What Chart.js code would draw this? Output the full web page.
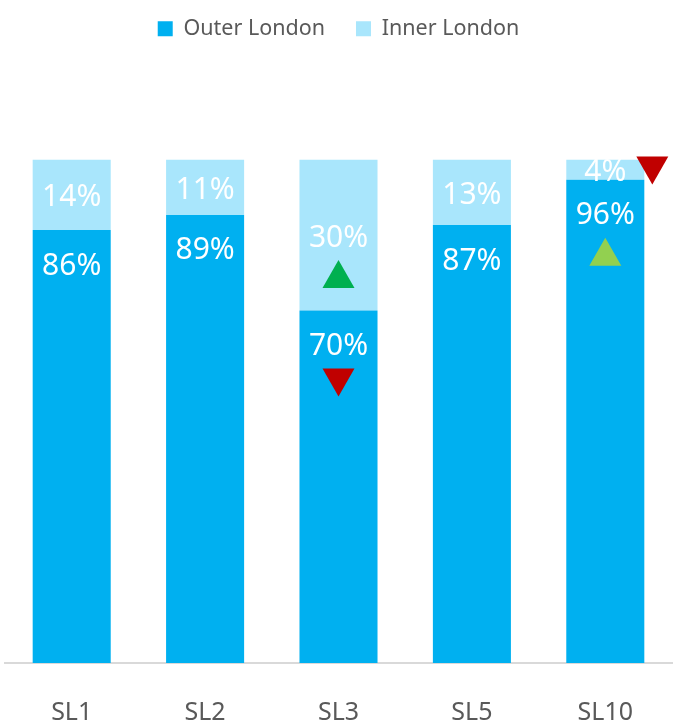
<!DOCTYPE html>
<html>
<head>
<meta charset="utf-8">
<script src="https://cdn.jsdelivr.net/npm/chart.js@4/dist/chart.umd.min.js"></script>
<style>
  html, body { margin: 0; padding: 0; background: #fff; }
  #wrap { width: 677px; height: 725px; }
</style>
</head>
<body>
<div id="wrap"><canvas id="bar"></canvas></div>
<script>
const categories = ['SL1', 'SL2', 'SL3', 'SL5', 'SL10'];
const outerLondon = [86, 89, 70, 87, 96];
const innerLondon = [14, 11, 30, 13, 4];
// change markers per bar segment
const outerTrend = [null, null, 'down', null, 'upLight'];
const innerTrend = [null, null, 'up', null, 'down'];

const FONT = "'Noto Sans', 'Open Sans', sans-serif";
const markerColors = { up: '#00B050', upLight: '#92D050', down: '#C00000' };

// big gap under the legend
const legendGap = {
  id: 'legendGap',
  beforeInit(chart) {
    const fit = chart.legend.fit;
    chart.legend.fit = function () {
      fit.bind(chart.legend)();
      this.height += 110;
    };
  }
};

function drawTriangle(ctx, x, y, dir, color) {
  const w = 32, h = 28;
  ctx.fillStyle = color;
  ctx.beginPath();
  if (dir === 'down') {
    ctx.moveTo(x - w / 2, y - h / 2);
    ctx.lineTo(x + w / 2, y - h / 2);
    ctx.lineTo(x, y + h / 2);
  } else {
    ctx.moveTo(x, y - h / 2);
    ctx.lineTo(x + w / 2, y + h / 2);
    ctx.lineTo(x - w / 2, y + h / 2);
  }
  ctx.closePath();
  ctx.fill();
}

// value labels and trend markers inside the bars
const barLabels = {
  id: 'barLabels',
  afterDatasetsDraw(chart) {
    const ctx = chart.ctx;
    ctx.save();
    ctx.font = '30px ' + FONT;
    ctx.textAlign = 'center';
    ctx.textBaseline = 'middle';
    const trends = [outerTrend, innerTrend];
    chart.data.datasets.forEach((ds, di) => {
      chart.getDatasetMeta(di).data.forEach((bar, i) => {
        const top = Math.min(bar.y, bar.base);
        const bottom = Math.max(bar.y, bar.base);
        const ly = di === 0 ? top + 36 : (top + bottom) / 2 + 3;
        ctx.fillStyle = '#fff';
        ctx.fillText(ds.data[i] + '%', bar.x, ly);
        const t = trends[di][i];
        if (t) {
          const dir = t === 'down' ? 'down' : 'up';
          if (bottom - top > 60) {
            drawTriangle(ctx, bar.x, ly + 36, dir, markerColors[t]);
          } else {
            drawTriangle(ctx, bar.x + bar.width / 2 + 8, ly - 2, dir, markerColors[t]);
          }
        }
      });
    });
    ctx.restore();
  }
};

const config = {
  type: 'bar',
  data: {
    labels: categories,
    datasets: [
      {
        label: 'Outer London',
        data: outerLondon,
        backgroundColor: '#00B0F0',
        barPercentage: 0.585,
        categoryPercentage: 1
      },
      {
        label: 'Inner London',
        data: innerLondon,
        backgroundColor: '#A9E6FC',
        barPercentage: 0.585,
        categoryPercentage: 1
      }
    ]
  },
  options: {
    responsive: true,
    maintainAspectRatio: false,
    animation: false,
    layout: { padding: { top: -13, left: 5, right: 5, bottom: 0 } },
    plugins: {
      legend: {
        position: 'top',
        labels: {
          boxWidth: 15,
          boxHeight: 15,
          padding: 31,
          color: '#595959',
          font: { family: FONT, size: 21.5 }
        }
      },
      tooltip: { enabled: false }
    },
    scales: {
      x: {
        stacked: true,
        grid: { display: false, drawTicks: false },
        border: { display: true, color: '#D9D9D9', width: 2 },
        ticks: {
          padding: 35,
          color: '#595959',
          font: { family: FONT, size: 25 }
        },
        afterFit(scale) {
          scale.height = 62;
        }
      },
      y: {
        stacked: true,
        display: false,
        min: 0,
        max: 100
      }
    }
  },
  plugins: [legendGap, barLabels]
};

const ctx = document.getElementById('bar').getContext('2d');
window.myBar = new Chart(ctx, config);
</script>
</body>
</html>
